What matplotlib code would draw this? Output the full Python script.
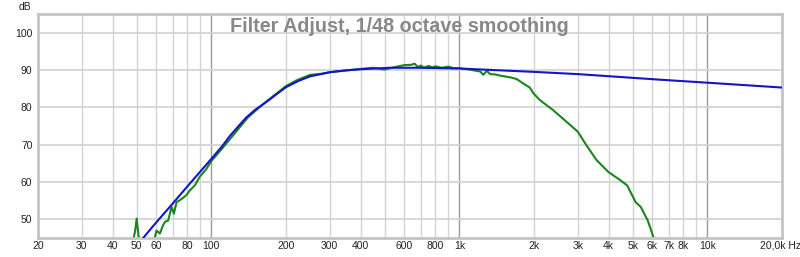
import matplotlib
matplotlib.use("Agg")
import matplotlib.pyplot as plt

# --- data ---
target_freq = [53, 54, 60, 70, 80, 90, 100, 110, 118.7, 130, 138.4, 150, 160, 172.6, 183,
               200, 225, 250, 300, 350, 400, 524, 700, 1000, 2000, 3000, 6460, 10000, 20000]
target_db = [44.9, 45.6, 49.2, 54.3, 58.8, 62.7, 66.2, 69.4, 72.3, 75.3, 77.3, 79.3, 80.6,
             82.2, 83.5, 85.4, 87.1, 88.3, 89.4, 89.9, 90.2, 90.6, 90.6, 90.4, 89.5, 88.9,
             87.4, 86.6, 85.3]

meas_freq = [48.3, 49.3, 50.0, 50.6, 51.2, 58.5, 59.2, 60.1, 62, 63.5, 64.9, 67, 69.1,
             70.6, 72.4, 74.6, 77, 79.4, 82, 85.8, 90, 95, 100, 110, 120, 140, 160, 180,
             200, 220, 250, 280, 300, 350, 400, 450, 500, 550, 600, 640, 660, 680, 700,
             720, 750, 780, 800, 850, 900, 950, 1000, 1100, 1214, 1250, 1290, 1330, 1400,
             1460, 1610, 1700, 1800, 1923, 1987, 2107, 2383, 2697, 3001, 3250, 3572, 3987,
             4453, 4747, 5140, 5393, 5750, 6030, 6100]
meas_db = [44, 47, 50.2, 47, 44, 44, 45.2, 47, 46.2, 48, 49.3, 49.7, 53.3,
           51.5, 54.6, 55.1, 55.8, 56.5, 57.8, 59.1, 61.5, 63.3, 65.6, 68.8, 71.8, 77.2, 80.6, 83.3,
           85.7, 87.2, 88.7, 89.0, 89.4, 89.9, 90.3, 90.6, 90.1, 90.8, 91.3, 91.4, 91.7, 90.8, 91.2,
           90.6, 91.1, 90.7, 91.0, 90.6, 90.9, 90.5, 90.5, 90.1, 89.6, 88.7, 89.8, 88.9, 88.8,
           88.5, 88.0, 87.6, 86.5, 85.3, 83.8, 82.0, 79.3, 76.2, 73.5, 69.9, 65.9, 62.7,
           60.5, 59.1, 54.6, 53.3, 49.7, 45.7, 44]

xtick_vals = [20, 30, 40, 50, 60, 80, 100, 200, 300, 400, 600, 800, 1000, 2000, 3000,
              4000, 5000, 6000, 7000, 8000, 10000]
xtick_labels = ["20", "30", "40", "50", "60", "80", "100", "200", "300", "400", "600",
                "800", "1k", "2k", "3k", "4k", "5k", "6k", "7k", "8k", "10k"]
ytick_vals = [50, 60, 70, 80, 90, 100]
title = "Filter Adjust, 1/48 octave smoothing"

plt.rcParams['font.family'] = ['Liberation Sans', 'DejaVu Sans']

fig = plt.figure(figsize=(8, 2.57), dpi=100)
ax = fig.add_axes([38/800, 19/257, 744/800, 224/257])
ax.set_xscale('log')
ax.set_xlim(20, 20000)
ax.set_ylim(45, 105)

# grid
minor = []
for dec in [10, 100, 1000, 10000]:
    for m in range(2, 10):
        v = dec * m
        if 20 <= v < 20000 and v not in (100, 1000, 10000):
            minor.append(v)
for v in minor:
    ax.axvline(v, color='#d4d4d4', lw=1.0, zorder=0)
for v in [100, 1000, 10000]:
    ax.axvline(v, color='#9a9a9a', lw=1.0, zorder=0)
for v in ytick_vals:
    ax.axhline(v, color='#d4d4d4', lw=1.3, zorder=0)

ax.plot(meas_freq, meas_db, color='#1b861b', lw=1.5, zorder=2)
ax.plot(target_freq, target_db, color='#1414c8', lw=1.5, zorder=3)

ax.set_xticks(xtick_vals)
ax.set_xticklabels(xtick_labels)
ax.xaxis.set_minor_locator(matplotlib.ticker.NullLocator())
ax.set_yticks(ytick_vals)
ax.set_yticklabels([str(v) for v in ytick_vals])
ax.tick_params(axis='both', length=0, labelsize=7.5, colors='#222222')
ax.tick_params(axis='x', pad=2)
ax.tick_params(axis='y', pad=4)

for s in ax.spines.values():
    s.set_color('#c4c4c4')
    s.set_linewidth(2)

ax.text(0.4855, 0.945, title, transform=ax.transAxes, ha='center', va='center',
        fontsize=14.2, fontweight='bold', color='#888888')

fig.text(25/800, 1 - 7/257, "dB", ha='center', va='center', fontsize=7.5, color='#222222')
fig.text(760/800, 1 - 246/257, "20,0k Hz", ha='left', va='center', fontsize=7.5, color='#222222')

fig.savefig("out.png", dpi=100, facecolor='white')
